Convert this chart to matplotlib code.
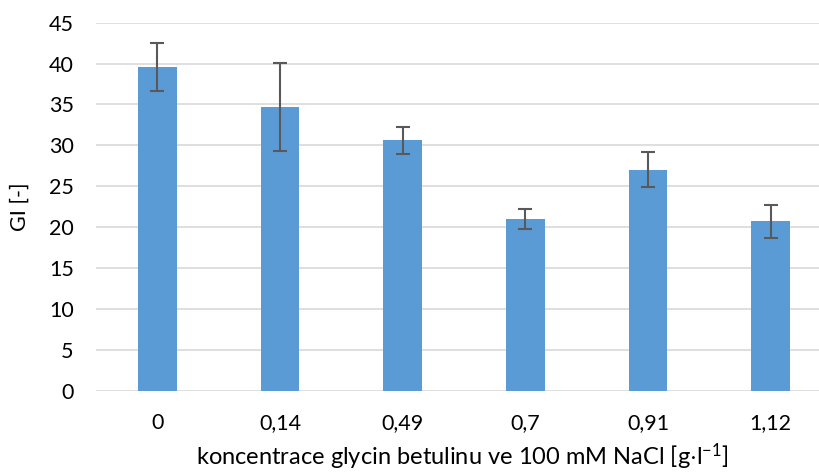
import matplotlib
matplotlib.use("Agg")
import matplotlib.pyplot as plt
import numpy as np

categories = ["0", "0,14", "0,49", "0,7", "0,91", "1,12"]
gi_values = [39.6, 34.7, 30.65, 21.0, 27.05, 20.7]
gi_errors = [2.95, 5.35, 1.65, 1.25, 2.15, 2.05]
y_ticks = [0, 5, 10, 15, 20, 25, 30, 35, 40, 45]

plt.rcParams["font.family"] = ["Lato", "DejaVu Sans"]
plt.rcParams["mathtext.default"] = "regular"

W, H = 819, 473
fig = plt.figure(figsize=(W / 100, H / 100), dpi=100)
left, right = 96, 832
top, bottom = 22.7, 390.8
ax = fig.add_axes([left / W, 1 - bottom / H, (right - left) / W, (bottom - top) / H])

x = np.arange(len(categories))
ax.bar(x, gi_values, width=0.313, color="#5B9BD5", zorder=2)
ax.errorbar(x, gi_values, yerr=gi_errors, fmt="none", ecolor="#595959",
            elinewidth=1.5, capsize=5.2, capthick=1.5, zorder=3)

ax.set_xlim(-0.5, len(categories) - 0.5)
ax.set_ylim(0, 45)
ax.set_yticks(y_ticks)
ax.set_yticklabels([str(t) for t in y_ticks])
ax.set_xticks(x)
ax.set_xticklabels(categories)
ax.tick_params(axis="both", length=0, labelsize=15.5, colors="#000000")
ax.tick_params(axis="x", pad=16)
ax.tick_params(axis="y", pad=16)

ax.grid(axis="y", color="#D9D9D9", linewidth=1.2, zorder=0)
ax.set_axisbelow(True)
for s in ax.spines.values():
    s.set_visible(False)

ax.set_ylabel("GI [-]", fontsize=15.5, labelpad=14)
xl = ax.set_xlabel("koncentrace glycin betulinu ve 100 mM NaCl [g$\\cdot$l$^{-1}$]",
                   fontsize=17)
xl.set_verticalalignment("baseline")
ax.xaxis.set_label_coords((462 - left) / (right - left), (bottom - 465) / (bottom - top))

fig.savefig("out.png", dpi=100)
